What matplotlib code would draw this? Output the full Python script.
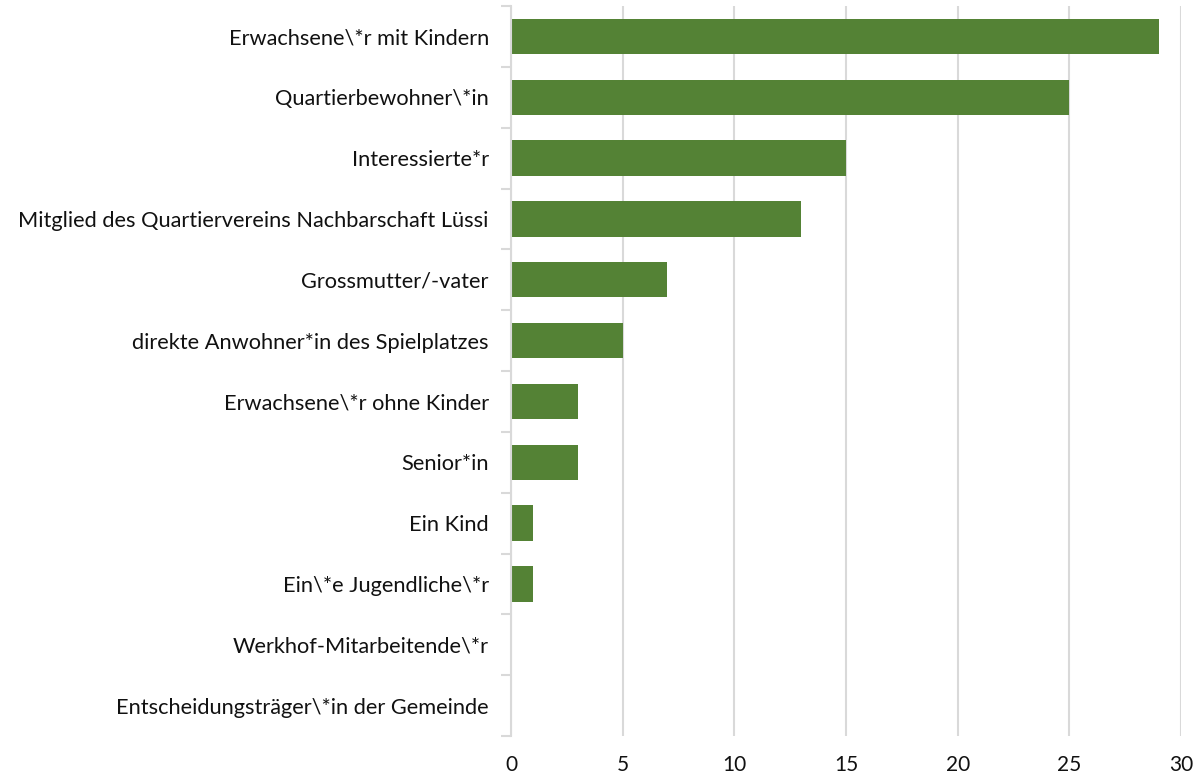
import matplotlib
matplotlib.use("Agg")
import matplotlib.pyplot as plt
import numpy as np

categories = [
    "Erwachsene\\*r mit Kindern",
    "Quartierbewohner\\*in",
    "Interessierte*r",
    "Mitglied des Quartiervereins Nachbarschaft Lüssi",
    "Grossmutter/-vater",
    "direkte Anwohner*in des Spielplatzes",
    "Erwachsene\\*r ohne Kinder",
    "Senior*in",
    "Ein Kind",
    "Ein\\*e Jugendliche\\*r",
    "Werkhof-Mitarbeitende\\*r",
    "Entscheidungsträger\\*in der Gemeinde",
]
values = [29, 25, 15, 13, 7, 5, 3, 3, 1, 1, 0, 0]
xticks = [0, 5, 10, 15, 20, 25, 30]

plt.rcParams['font.family'] = ['Lato', 'DejaVu Sans']

fig = plt.figure(figsize=(11.98, 7.76), dpi=100)
ax = fig.add_axes([511/1198, 1-736/776, (1181-511)/1198, 730/776])

y = np.arange(len(categories))
ax.barh(y, values, height=0.58, color="#548235", zorder=3)
ax.set_ylim(len(categories)-0.5, -0.5)
ax.set_xlim(0, 30)
ax.set_xticks(xticks)
ax.set_xticklabels([str(t) for t in xticks], fontsize=15)
ax.set_yticks(y)
ax.set_yticklabels(categories, fontsize=15.7)
ax.set_yticks(np.arange(len(categories)+1)-0.5, minor=True)

ax.tick_params(axis='y', which='major', length=0, pad=16, colors='#111111')
ax.tick_params(axis='y', which='minor', length=7, width=1.5, color='#D9D9D9')
ax.tick_params(axis='x', which='major', length=0, pad=14, colors='#111111')

ax.grid(axis='x', color='#D9D9D9', linewidth=1.5, zorder=0)
for s in ['top', 'right', 'bottom']:
    ax.spines[s].set_visible(False)
ax.spines['left'].set_color('#D9D9D9')
ax.spines['left'].set_linewidth(1.5)
ax.spines['left'].set_zorder(4)

fig.savefig("out.png", dpi=100)
